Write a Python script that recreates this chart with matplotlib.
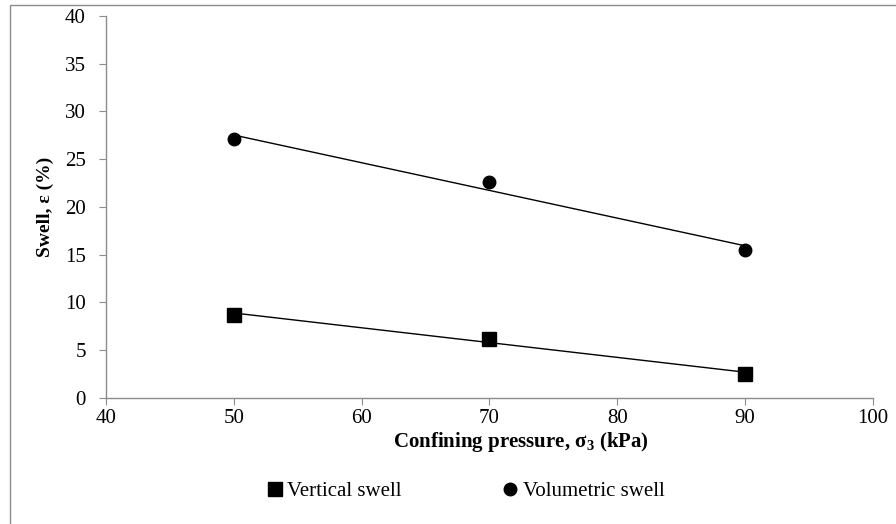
import numpy as np
import matplotlib.pyplot as plt
from matplotlib.patches import Rectangle

pressure = [50, 70, 90]
vertical_swell = [8.7, 6.2, 2.5]
volumetric_swell = [27.1, 22.6, 15.5]

plt.rcParams['font.family'] = ['Liberation Serif', 'DejaVu Serif']
plt.rcParams['mathtext.fontset'] = 'custom'
plt.rcParams['mathtext.rm'] = 'Liberation Serif'
plt.rcParams['mathtext.bf'] = 'Liberation Serif:bold'
plt.rcParams['mathtext.it'] = 'Liberation Serif:italic'

fs = 15

fig = plt.figure(figsize=(8.96, 5.24), dpi=100)
ax = fig.add_axes([0.1183, 0.2405, 0.856, 0.729])

x = np.array(pressure)
for y, mk, ms, lab in [(vertical_swell, 's', 9.5, 'Vertical swell'),
                       (volumetric_swell, 'o', 9, 'Volumetric swell')]:
    ax.plot(x, y, linestyle='none', marker=mk, markersize=ms, color='black', label=lab)
    # linear trend line
    k, b = np.polyfit(x, y, 1)
    ax.plot(x, k * x + b, color='black', linewidth=1.0)

ax.set_xlim(40, 100)
ax.set_ylim(0, 40)
ax.set_xticks(range(40, 101, 10))
ax.set_yticks(range(0, 41, 5))
for s in ['top', 'right']:
    ax.spines[s].set_visible(False)
for s in ['left', 'bottom']:
    ax.spines[s].set_color('#8c8c8c')
    ax.spines[s].set_linewidth(1.0)
ax.tick_params(direction='out', length=5, color='#8c8c8c', labelsize=fs)
ax.tick_params(axis='y', pad=9.5)
ax.tick_params(axis='x', pad=3)

ax.set_xlabel(r'Confining pressure, σ$_\mathbf{3}$ (kPa)', fontsize=fs, fontweight='bold', labelpad=0)
ax.xaxis.set_label_coords(0.541, -0.085)
ax.set_ylabel('Swell, ε (%)', fontsize=14, fontweight='bold', labelpad=8)

ax.legend(loc='center', bbox_to_anchor=(0.466, -0.245), ncol=2, frameon=False,
          fontsize=fs, handletextpad=0.0, columnspacing=4.6, handlelength=1.2)

fig.patches.append(Rectangle((9.5 / 896, -0.1), 1.2, 1.1 - 4.5 / 524, transform=fig.transFigure,
                             fill=False, edgecolor='#8c8c8c', linewidth=1.0, clip_on=False))

fig.savefig('out.png', dpi=100)
